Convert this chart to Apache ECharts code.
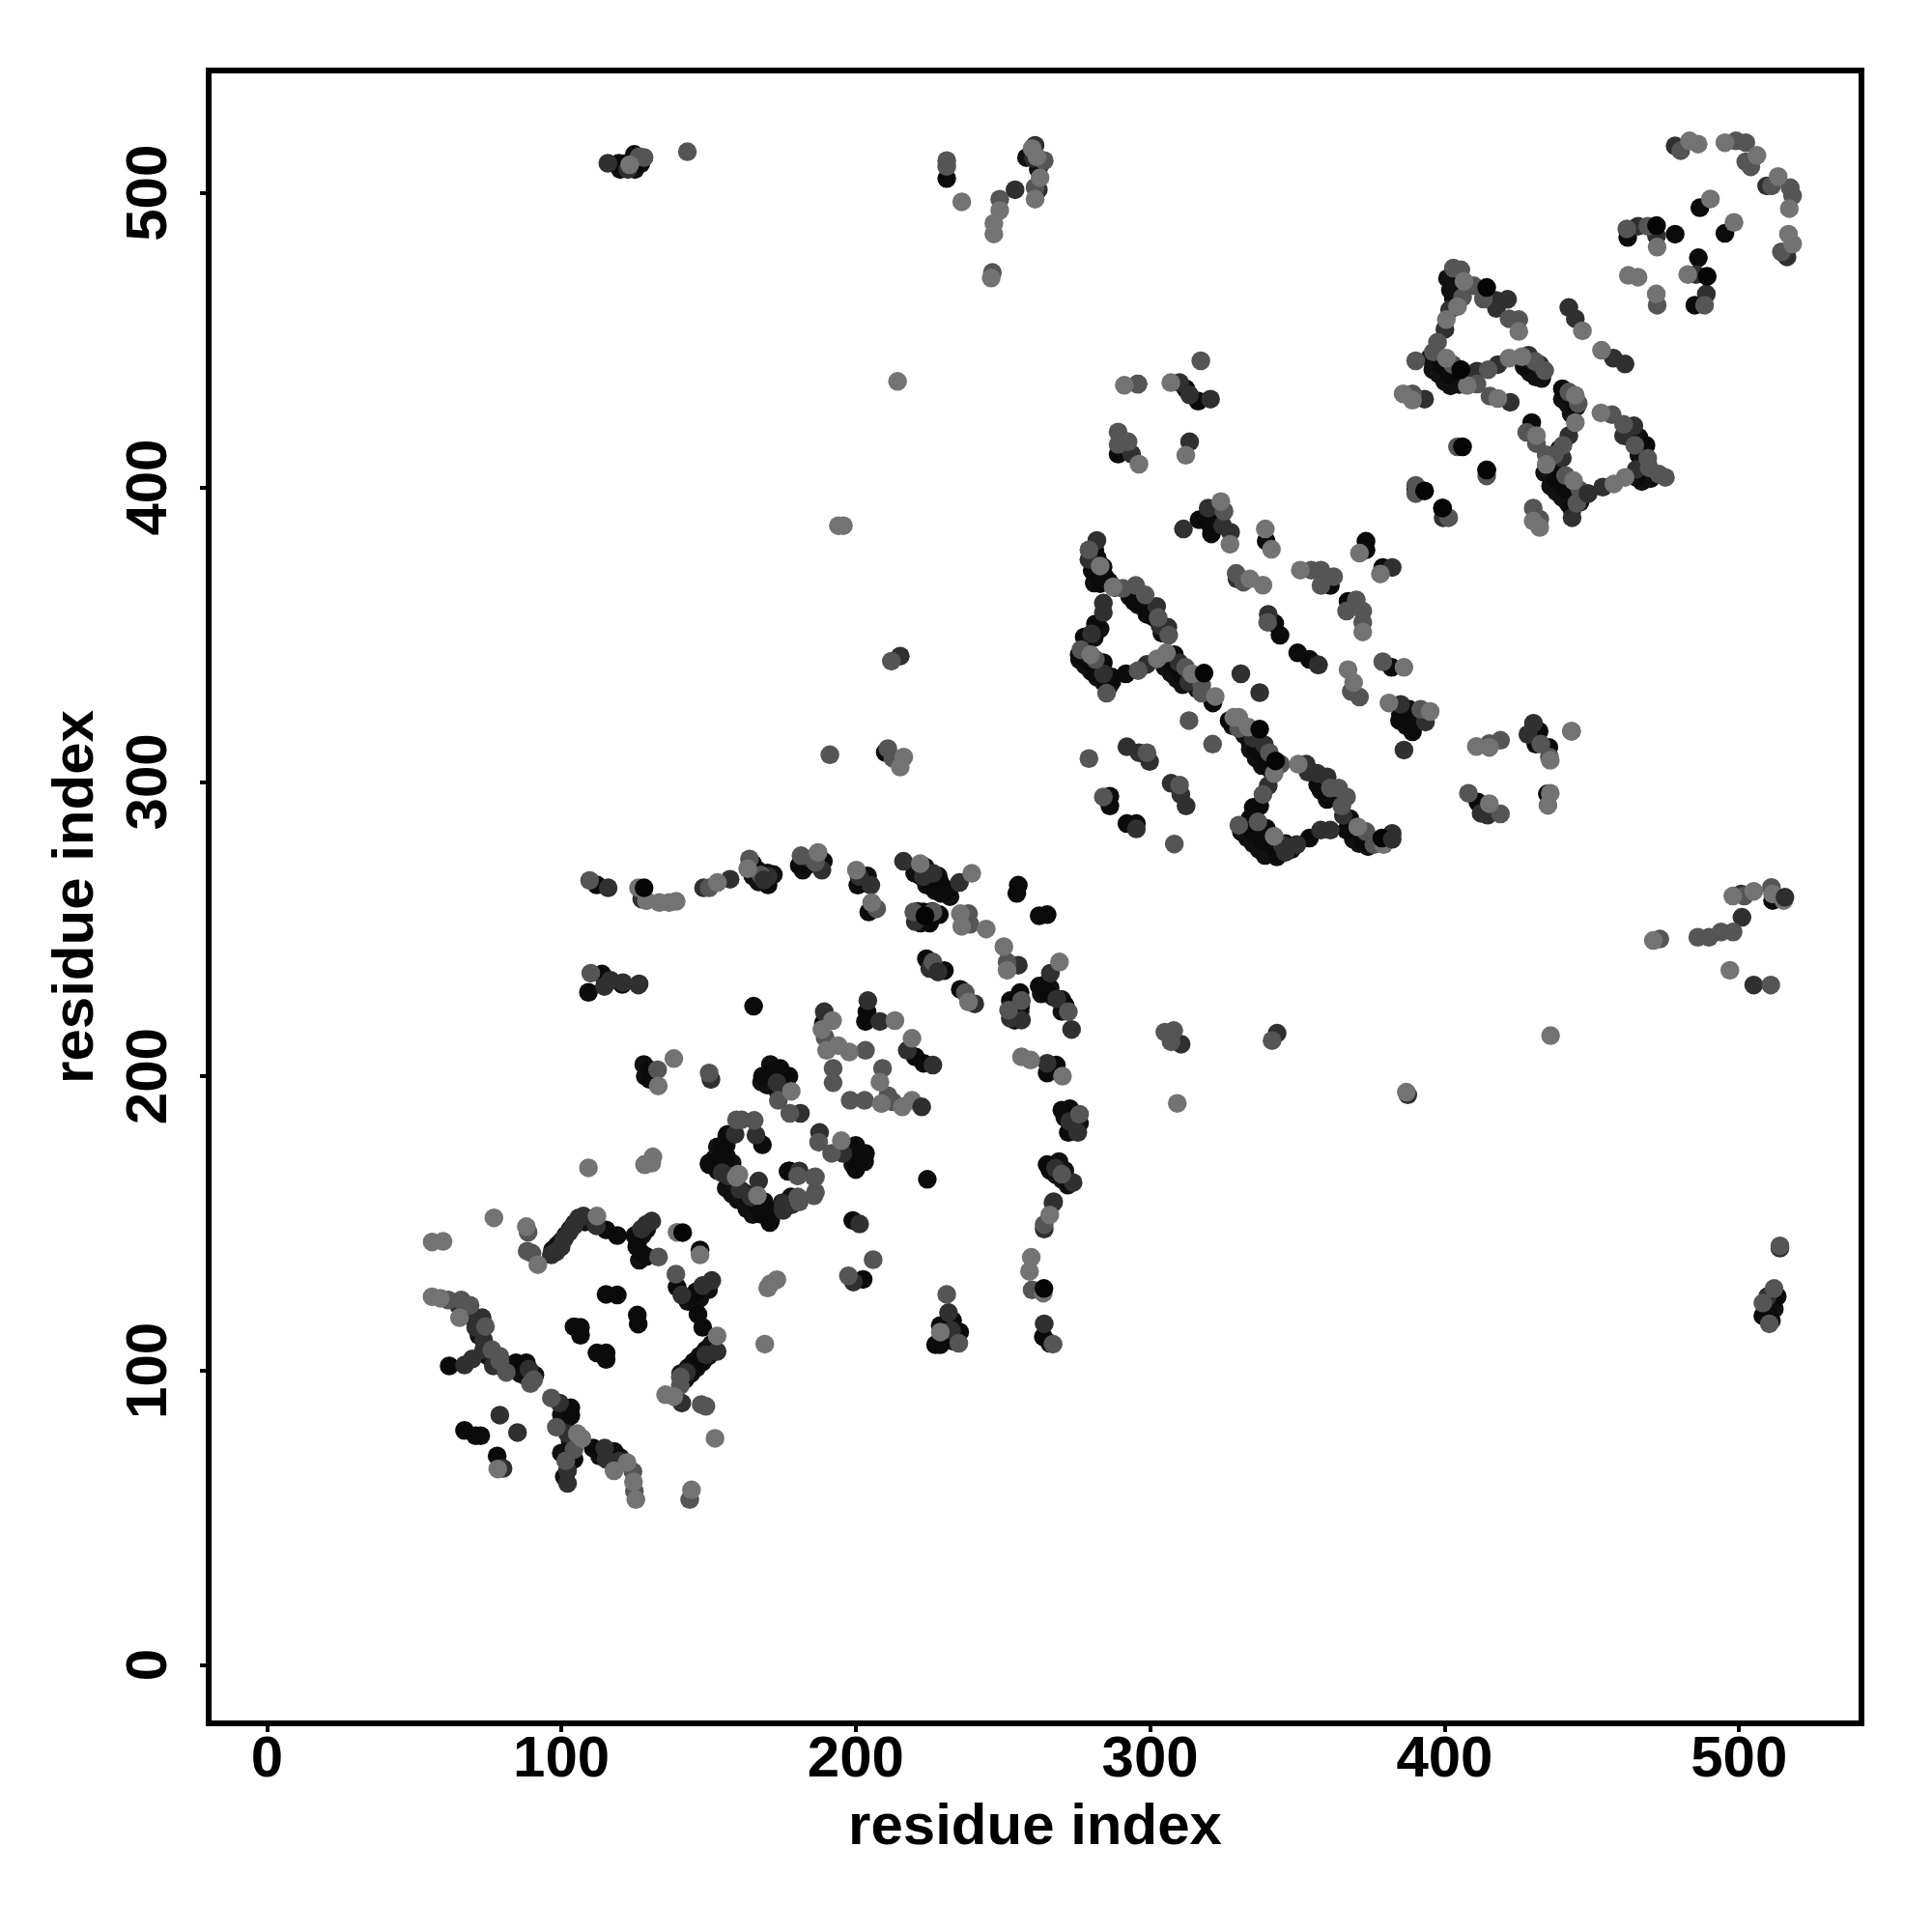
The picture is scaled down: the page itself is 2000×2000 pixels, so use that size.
<!DOCTYPE html>
<html><head><meta charset="utf-8">
<script src="https://cdn.jsdelivr.net/npm/echarts@6/dist/echarts.min.js"></script>
<style>html,body{margin:0;padding:0;background:#fff}#c{width:2000px;height:2000px}</style>
</head><body><div id="c"></div>
<script>
const tickValues = [0,100,200,300,400,500];
const axisTitle = "residue index";
const denseBlackPoints = [
[97,141],[98.5,142.5],[100,144],[101.5,146],[103,148],[104.5,150],[106,151],[108,150.5],[126,144],[127.5,146],[129,148],[126.5,137.5],
[143,123.5],[145,125],[147,127],[149,129],[147,124.5],[150,127.5],
[142,97],[144,99],[146,101],[148,103],[150,105],[152,107],[143,101],[145,103],[147,105],[149,107],[151,109],[140.5,99],
[66,121],[72,116],[72,112],[75,105],[77,103],[83,101],[86,99],[88,98],[91,98.5],
[100,85],[101,82],[103,76],[100,72],[101,64],[113,71],[120,70.5],
[152,172],[154,170],[153,168],[156,173],[158,170.5],[153,176],[156,176.5],[156,162],[158,160],[163,155],[165,153],[170,153],[172,154],[168,155],[175,157],[178,159],[160,158],[162,160.5],
[200,172],[198,174],[203,171],[197,176],[199,170],
[165,268],[167,266],[170,269],[172,268.5],[182,270],[184,272],[220,269],[222,268],[224,265],[227,263],[228,268],[230,264],[232,261],[222,252],[226,256],[221,256],
[264,231],[266,230],[267,227],[270,226],[270,222],[263,228],[253,224],[253,221.5],[254,219],[256,224],
[266,168],[268,166.5],[270,165],[272,163],[271,168],[269,171],
[271,186],[274,186],[273,182],[276,184],[168,198],[170,197],[172,199],[175,198],[171,204],[175,201],[128,204],[128.5,200],
[277,344],[279,342],[281,340],[283,338],[285,336],[287,334],[276,341.5],[278,339.5],[280,337.5],[282,335.5],[284,334],[286,332.5],[281,349],[283,352],[282,376],[282,371],[284,373],[286,368],[288,366],[281,367.5],[293,363],[296,360],[299,358.5],[301,356],[304,350.5],
[306,341],[308,339],[310,338],[312,336],[314,334],[316,331.5],[305,339],[307,337],[309,335],[311,333],
[328,319],[332,316],[334,313],[336,315],[338,310],[340,307.5],[334,311],[336,308],[338,305.5],[341,304],
[333,284],[335,281],[337,279],[339,277],[341,275.5],[343,274.5],[331,283],[333,281],[335,279],[337,277],[339,275],[346,279],[348,277],[341,282],
[356,303],[358,300],[360,298],[362,296],[358,297],[368,286],[370,283],[372,281.5],[369,280.5],[371,279],[374,278],[377,279.5],
[385,323],[387,319],[392,322],
[395,444],[397,442],[399,440],[401,438],[403,436.5],[405,435],[407,436],[396,440],[398,438.5],[400,436],[402,434.5],[403,464],[402,467],[404,470],[401,471],
[427,441],[429,439],[431,437.5],[433,437],[440,430],[442,428],[443,425],
[436,404],[438,402],[440,400],[442,398],[444,396],[446,395],[434,405],[436,400.5],[438,398.5],[440,396.5],[442,394.5],[437,408],[439,413],
[463,417],[466,411],[467,402],[470,403],[466,417],
[120,508],[122,510],[125,508],[127,510],[258,512],[262,508],
[512,121],[510,123],[509,120],[511,117],[229,111],[233,110]
];
const blackPoints = [
[115.2,147.8],[119,145.9],[125,145.9],[127.2,139.9],[125.6,142.1],[128.9,138.8],[147.1,141],[139.3,128.4],[146.4,119.1],[148,114.7],[145.8,126.8],[143.6,125.1],[146.9,103.2],[144.7,101],
[115.2,125.9],[119,125.7],[104.3,114.9],[106.5,114.7],[106.5,112],[112.1,106],[115.2,106],[115.2,103.8],[125.8,118.9],[126.1,115.8],
[84.6,102.7],[88.1,102.7],[61.9,101.6],[67.1,79.7],[70.9,77.9],[72.6,77.9],[78.2,71],[103.2,87.4],[103.2,84.7],[104.3,69.9],[110.8,73.7],[117.9,72.6],
[170.8,150.3],[163.3,159.6],[166.6,156.3],[168.8,157.4],[150.2,170],[152.4,169.4],[155.7,168.3],[177.5,167.8],[165.7,157.3],[167.8,153.1],[171.1,151],[177.4,167.8],
[165,272.2],[166.6,270],[170.2,265],[180.8,271.6],[189,273],[204,268],[200.7,264.9],[204.4,255.8],[223.5,271.1],[228.4,266.2],[225.7,264.5],[231.2,262.9],[229,262.1],
[223,255.8],[225.1,252],[228.4,254.9],[255.2,264.9],[254.7,262.1],[262.3,254.5],[265,254.9],[224,239.9],[230.1,235.9],[235.5,229.5],[262.3,230.6],[265,228.4],[271.1,224.1],
[252.5,225.7],[255.8,228.4],[255.8,221.9],[165.3,223.8],[120.7,231.2],[189,218],[203.8,221.9],[203.3,218.6],[220.2,206.6],[223,204.4],[268.1,203.8],[265,201.1],
[270,188.5],[272.7,189],[272.2,180.9],[265,170],[272.2,164.5],[224.3,165],[130,202.2],[130,198.9],[168.3,200],[174.3,202.7],[171,201.1],[177.3,200],[173.7,194.5],
[168.3,176.7],[156.2,179.8],[154.6,176],[150.2,170.5],[155.7,170.5],[157.3,167.2],[200,176.5],[203.3,173.8],[201.1,170.5],[200,168.3],[177,167.7],[168.8,157.4],
[199,151],[202.5,131],[109.2,228.5],[113.8,234.7],[112,265],[156.5,180.3],[154.4,174],[151.5,170.7],[156.5,167.8],
[316.6,389],[321.9,390.3],[320.2,387.5],[320.8,384.2],[339.4,381.8],[373.3,381.7],[373.3,378.8],[379,372.8],[361.2,366.7],[367.2,361.3],[342.3,353.8],[344.1,349.8],[350.1,343.8],[354.1,341.6],[382,338.9],
[384.7,320.8],[388,324.6],[388.6,320.8],[389.1,317],[281.2,378.8],[280.3,371.7],[284.7,369.5],[283,367.3],[294.5,361.3],[298.9,356.9],[281.4,353.6],[277.6,349.2],[275.9,343.2],[278.7,341],[284.1,340.5],[281.4,336.7],[286.9,335.6],[285.2,333.4],[291.8,336.7],
[308.2,343.2],[307.1,340.5],[310.4,336.7],[321.3,326.8],[326.8,320.8],[336.1,310.4],[339.4,306],[337.2,291.8],[335,291.3],[333.9,287.5],[332.3,285.3],[339.4,284.2],[335,282.9],[338.3,279.8],[343.2,275.4],[354.1,280.9],
[356.9,299],[360.1,294],[367.8,287.5],[366.7,283.6],[372.2,279.8],[286.3,295.1],[286.3,291.8],[292.1,285.8],[295.3,285.8],
[486.7,495],[495.2,486.3],[478.3,486],[462.2,484.9],[486.2,478],[485,461.9],[399,441.7],[401.7,438.4],[405.5,440],[407.2,437.8],[428,441.7],[440,433.5],[444.9,427.5],[438.3,406.1],[437.8,402.8],[441.1,399.6],[443.3,392.5],[465.1,403.4],[468.4,414.3],[429.6,422],[414.3,405.9],[399.3,393],[390.2,399.5],
[119.5,510.1],[124.8,513.1],[125.7,510.1],[230.9,504.9],[432.1,317.2],[431,312.8],[435.4,311.7],[411.3,293.1],[434.9,295.9],[511.4,259.7],[513,125.2],[508.1,118.6],[510.3,118.6],[228.7,115.3],[232.9,117],[235.3,113.1],[227.1,108.8],[228.7,108.8],[263.7,111.5],[265.9,109.3],[210,310],[295.8,435.1],[312.1,433.5],[316.3,429.3],[289.1,411.3]
];
const darkPoints = [
[111.9,149.2],[96.6,139.3],[98.3,140.4],[99.9,142],[101,144.8],[102.6,147],[104.3,149.2],[105.9,151.9],[107.5,152.5],[127.2,148.1],[128.9,149.7],[130.7,150.8],[140.9,125.7],[148,128.9],[151.1,130.6],[152.9,106.5],[149.1,105.4],[142.5,99.4],[140.9,89],
[64.9,122.4],[69.8,118],[73.1,118],[70.9,114.7],[73.6,110.4],[73.6,107.1],[76.9,101.6],[89,100.5],[69.8,104],[67.1,101.9],[79.1,84.9],[85.1,79],[80.2,66.8],[99.4,89],[102.1,78.6],[102.1,66],[102.1,61.7],[114.7,73.7],[115.2,69.9],[119.6,69.3],
[175.4,155.2],[178.1,156.3],[156.8,166.1],[160.7,161.5],[175.3,154.4],[180.8,167.8],[167,164.4],
[127.3,260.2],[148.3,264],[157.3,266.9],[168.8,266.7],[170.2,267.8],[184.7,273.8],[188.5,270],[201.1,267.8],[205.1,264.9],[216.2,273],[226.2,268.9],[223,267.8],[235.2,265.8],[220.2,252.5],[255.2,237.7],
[225.1,236.6],[227.9,235.5],[240.4,224.6],[266.1,235],[268.3,226.3],[273.3,215.9],[252.5,219.7],[256.3,219.1],[126.2,231],[189.3,221.9],[204.1,225.7],[208.2,218.6],[217.5,208.8],[226.2,203.8],[265,204.4],[272.7,184.7],[275.4,180.9],
[267.8,168.8],[273.8,163.9],[267.2,157.4],[150.8,198.9],[173.2,197.8],[181.2,187.4],[166.1,180],[159,180.3],[154.6,167.2],[187.7,180.9],[195.6,173.8],[164.4,159],[175.4,156.8],
[201.3,149.8],[199.2,130.1],[114.6,230.5],[116.7,232.6],[120.9,231.8],[115.9,264],[126.4,231.4],
[311.3,385.9],[319.7,393],[324.6,387],[327.3,384.8],[382.2,372.8],[329.5,368.9],[340.1,356.9],[357.1,339.7],[385.1,326.3],[393.5,320.3],[386.2,310.8],[330.8,336.7],[337.2,330.3],
[281.9,382],[279.2,375.5],[302.2,359.6],[303.3,353.1],[306,352.5],[284.1,360.7],[284.1,357.5],[280.1,350.3],[284.1,336.7],[298.9,339.9],[309.8,340.5],[313.1,333.9],
[335,314.8],[338.8,312.6],[340.1,298.7],[344.8,278.7],[345.9,276],[349.8,278.7],[357.9,283.6],[361.2,283.6],[353,306],[353.6,303.3],[356.9,302.8],[360.1,301.7],[365.6,288.6],[382.2,282.5],
[292.1,311.9],[296.2,309.9],[299.8,306.9],[307.1,299.5],[310.4,295.7],[312.2,291.8],[295.3,284],
[478.3,516],[509.4,502.4],[516.3,478.3],[465.7,488.7],[472,485.4],[485.4,472.3],[488.9,465.7],[421.4,463.9],[417.6,460.8],[417.6,463.5],[401.7,460.3],[400.1,453.7],[411,439.5],[418.1,441.7],[428.5,444.9],[432.3,441.7],[393.2,430],[422.3,428.9],
[442.2,461.1],[444.4,457.3],[457.3,443.9],[461.3,441.9],[442.2,417.6],[440,410],[448.7,397.9],[443.3,389.7],[453.7,400.1],[465.1,406.1],[464.3,420.9],[460.8,417.6],[399.5,389.7],
[115.8,510.1],[122.6,508],[260.9,516.2],[260.4,511.8],[262,501.1],[254.1,501.1],[430.2,319.9],[428.3,316.1],[412.4,289.3],[414.6,288.7],[500.7,261.9],[501,254],[505,231],[509.7,125.2],[513.9,141.6],[231.5,119.7],[232.5,113.7],[264,115.9],[264,148.1],[267,156.9],[215.1,342.7],[310,435.6],[313.4,431.4],[320.5,430],[313.4,415.5],[293.7,411.3],[343.1,214.6],[310.5,210.9],[387.5,193.7]
];
const midPoints = [
[88.7,147],[88.4,140.6],[90,139.9],[133,138.6],[138.9,132.8],[140.4,97.8],[140.4,95],[147.5,88.5],[149.1,87.9],[143.6,56.2],
[61.6,124],[66,124],[69,122.2],[74.2,115],[76.4,107.1],[79.1,104.9],[79.1,103.2],[81.3,99.4],[90.6,96.9],[89.5,95.6],[96.6,90.7],[98.3,80.8],[104.3,73.2],[101.5,69.4],[124.3,65.7],[124.8,59],[128.3,170],
[180.8,157.3],[185.8,159.4],[185.8,165.7],[109.6,266.5],[110,235],
[150.2,264],[163.9,273.8],[167.7,268.4],[181.4,274.9],[186.3,272.7],[207.1,256.9],[219.7,255.8],[226.2,255.8],[238.3,255.2],[238.8,251.6],[251.4,238.8],[226.2,238.8],[237.2,228.4],[272.2,221.9],[256.3,225.7],[251.9,222.4],
[189.6,213.1],[203.3,208.8],[192.3,202.7],[192.3,197.8],[209.1,202.7],[210.9,193.4],[198.1,191.8],[203,191.8],[212.6,191.3],[276,187.1],[270,166.7],[132.7,202.2],[150.2,201.1],[173.7,191.8],[177.6,187.4],[159.5,185.2],[161.2,185.2],[165.5,185],[187.4,177.6],[191.8,173.8],[180.3,166.1],[186.3,165.8],[186.3,160.6],[180.3,159],
[197.5,132.2],[205.9,137.7],
[325.1,391.9],[329.2,370.8],[331.7,367.8],[354.7,371.9],[358,371.9],[362.3,369.7],[358,366.7],[370,361.8],[366.7,358],[372.2,358],[372.2,354.2],[339.9,354.2],[379,340.8],[368.3,330.7],[371.1,328.8],[391.9,324.6],[313.2,320.8],[321.2,312.8],[279.2,307.9],
[279.2,378.8],[290.7,365.7],[295.1,366.7],[298.3,363.5],[302.7,355.8],[306.3,349.8],[276.5,344.9],[281.4,341.6],[285.2,330.1],[295.9,337.8],[312,338.9],[317.5,332.8],[317.5,330.1],[330.1,318.1],[340.5,309.9],[344.3,306],[338.3,295.7],[330.1,285.3],[336.6,286.4],
[361.2,297.9],[364,297.9],[366.7,294.9],[365.1,291.8],[373.3,283.1],[376,278.7],[298.9,309.9],[310,298.9],[284.1,294.9],[308.2,278.9],
[480.2,514.4],[499,517.7],[502.3,517.1],[502.3,510.6],[504,508.9],[511.1,502.4],[517.4,501.8],[518.2,499.1],[514.4,480],[461.9,487.8],[469,488.7],[488.3,461.9],[472.2,461.9],
[403,474.5],[405.5,473.9],[409.9,468.5],[413.2,464],[406.1,464.6],[421.9,457.3],[425.2,457],[397.6,449.3],[390.2,443],[396.2,446],[402.8,441.7],[411,435.1],[414.8,440],[430.7,442.8],[434,439.7],[389.1,431.8],[415.4,431],
[442.2,432.4],[445.4,428.5],[440.2,414.3],[437.3,411.1],[434.5,411.1],[441.1,404],[446,399],[444.9,394.6],[456.9,424.7],[460.8,421.4],[464.6,414.3],[469,409.9],[469.5,406.7],[472.8,404.5],[475,403.4],[427.9,418.7],[431.2,414.9],[404.4,413.8],[414.3,403.9],[390.2,400.7],[390.2,397.9],[430.1,393],[432.3,389.2],[401.4,389.7],
[128.1,512.1],[126.4,512.3],[142.8,514],[230.9,511],[230.9,509],[248.9,497.9],[246.4,473],[264,511],[260.9,501.9],[415.2,313],[419,314.1],[432.7,312.8],[435.6,308.4],[443.1,317.2],[408.1,296.1],[419,289.1],
[473.1,246.6],[486,247.2],[489.8,247.2],[493.9,249],[498,249],[501.8,261.2],[511,264.1],[510.8,231],[513.9,142.4],[511.9,127.9],[508.1,123],[510.3,115.9],[259.9,127.4],[230.9,125.9],[235,109.3],[267,109],[264,149.6],
[212.1,341],[191.2,309.2],[210.9,311.3],[212.6,308],[295.8,435.1],[317.2,443],[289.1,418.8],[289.1,414.6],[292.5,415.5],[305,215],[308,215.5],[307.1,211.7],[341.4,212.1]
];
const lightPoints = [
[56.1,143.7],[59.8,143.9],[77.1,151.9],[88.1,148.9],[92,136],[112.1,152.5],[139.3,147],[147.1,139.3],[152.9,111.8],[135.4,91.8],[138.2,91.2],[152.2,77],[169.1,109],[171,129.5],[173.2,130.9],[170.1,128.1],
[109.2,168.9],[130.7,170.5],[160,166.7],[56.1,125.1],[58.9,124.6],[65.4,118],[105.4,78.6],[107,77],[122.3,68.8],[117.9,66],[124.5,62.2],[125.3,56.2],[144.2,59.5],[78.4,66.6],
[126.2,264],[128.9,259.6],[133.3,259],[136.6,259],[139,259.4],[153,265.8],[163.3,270.5],[187.2,276],[200.2,270],[205.4,259],[221.9,272.2],[239.4,268.9],[235.5,255.2],[236,250.9],[244.3,250],[250.3,244],[251.4,236],[238.3,225.2],[269.2,238.8],
[192.1,218.9],[188.5,215.9],[190.1,208.8],[194,210.4],[197.8,208.2],[213.3,218.9],[219.1,212.9],[208.2,198],[208.7,190.7],[215.8,189.6],[219.1,191.8],[256.3,206.6],[259.4,205.5],[270.2,200],[138.2,206],[132.9,196.7],[178.1,194.9],[195.1,178.1],[160.3,166.6],[131.1,172.6],[128.4,170],[166.6,159.5],[159.4,165.7],
[324,395.2],[327.1,380.7],[339.1,385.9],[341.2,379],[371.1,377.7],[378.2,370.6],[333.9,368.9],[338.3,366.8],[351,371.9],[372.2,350.9],[386.2,338.9],[367.2,338.1],[369.1,333.7],[381.1,326.8],[395.1,323.9],
[283,373.3],[287.4,366.2],[279.8,343.2],[302.4,341.8],[305.5,343.8],[314.2,336.7],[322.1,329],[328.4,321.9],[330.1,321.9],[333.3,318.6],[342.1,302.8],[342.1,281.5],[350.3,306],[370.5,284.7],[379.3,278.7],
[483.2,517.7],[486.1,516.6],[495.2,517.1],[506.1,512.8],[513.3,505.6],[517.1,494.7],[516.8,486],[518.2,482.7],[490.3,498],[498.3,490],[472.2,481.6],[482.6,472.3],[462.4,472],[465.7,471.4],[471.9,465.7],
[406.6,470],[425.2,453],[404.4,461.4],[400.6,457],[400.6,443.9],[407.7,434.6],[421.9,443.9],[426.3,444.4],[385.9,431.8],[389.1,429.6],[418.1,430.2],[446.8,453.2],[453.3,446.6],[444.4,431.3],[444.4,422],[434.5,407.8],[443.8,402.3],[457.5,401.2],[461.3,403.4],[453.1,425.3],[431.2,417.6],[430.1,388.6],[432.3,386.4],
[123.2,509.6],[236,497],[248.9,494.1],[246.9,489.7],[246.9,486.1],[246,471.1],[259.9,515.1],[261.5,512.3],[262.6,505.2],[260.9,497.9],
[410.8,312],[415.2,311.7],[435.9,307.3],[415.2,292.6],[435.9,296.1],[435.1,292],[443.1,317.2],[470.9,246.1],[497.9,261.2],[505,262.8],[511.4,261.9],[515.2,259.7],[496.9,236],
[265.9,152.9],[259.6,138.5],[259,133.7],[263.7,126.3],[228.7,113.1],
[214.2,436],[194.1,387],[195.8,387],[216.3,308.4],[215.1,305],[291.2,434.7],[307,435.6],[296.2,407.9],[312.1,410.9],[309.2,190.8],[387,194.6],[436,213.8]
];
const frontBlackPoints = [
[141.2,146.9],[128.1,264],[318.3,336.9],[337.2,317.9],[393.2,398.8],[406.1,413.8],[263.9,127.9],[472,488.9],[489.2,471.7],[342.6,307.1],[378.7,280.9],[223.5,254.5],[414.3,467.9],[405.5,440],[414.3,405.9],[399.3,393]
];
const frontDarkPoints = [
[222.4,189.6],[515.6,260.8],[382.2,280.5],[448.7,397.9],[357.1,339.7],[227.9,235.5],[168.8,266.7]
];
const shades = [
  {data: denseBlackPoints, color: '#111111'},
  {data: blackPoints, color: '#0b0b0b'},
  {data: darkPoints, color: '#303030'},
  {data: midPoints, color: '#555555'},
  {data: lightPoints, color: '#737373'},
  {data: frontBlackPoints, color: '#050505'},
  {data: frontDarkPoints, color: '#2e2e2e'}
];
const font = '"Liberation Sans", Arial, sans-serif';
const commonAxis = (gapName, margin) => ({
  type: 'value', min: -19.8, max: 541.6, name: axisTitle, nameLocation: 'middle', nameGap: gapName,
  nameTextStyle: {fontFamily: font, fontWeight: 'bold', fontSize: 60, color: '#000'},
  axisLine: {show: false, onZero: false}, splitLine: {show: false},
  axisTick: {show: true, length: 9, inside: false, customValues: tickValues, lineStyle: {color: '#000', width: 4}},
  axisLabel: {show: true, margin, customValues: tickValues, fontFamily: font, fontWeight: 'bold', fontSize: 60, color: '#000', hideOverlap: false, showMinLabel: true, showMaxLabel: true}
});
const chart = echarts.init(document.getElementById('c'), null, {renderer: 'canvas', width: 2000, height: 2000});
chart.setOption({
  animation: false, backgroundColor: '#fff',
  grid: {left: 216, top: 73, width: 1711, height: 1711, show: true, borderColor: '#000', borderWidth: 6, backgroundColor: 'transparent', containLabel: false},
  xAxis: Object.assign(commonAxis(78, 8), {position: 'bottom'}),
  yAxis: Object.assign(commonAxis(107, 61), {position: 'left', axisLabel: Object.assign(commonAxis(0, 61).axisLabel, {rotate: 90, align: 'center', verticalAlign: 'middle'})}),
  series: shades.map(s => ({type: 'scatter', data: s.data, symbol: 'circle', symbolSize: 19.5, itemStyle: {color: s.color, opacity: 1}, silent: true, clip: true, large: false}))
});
</script></body></html>
